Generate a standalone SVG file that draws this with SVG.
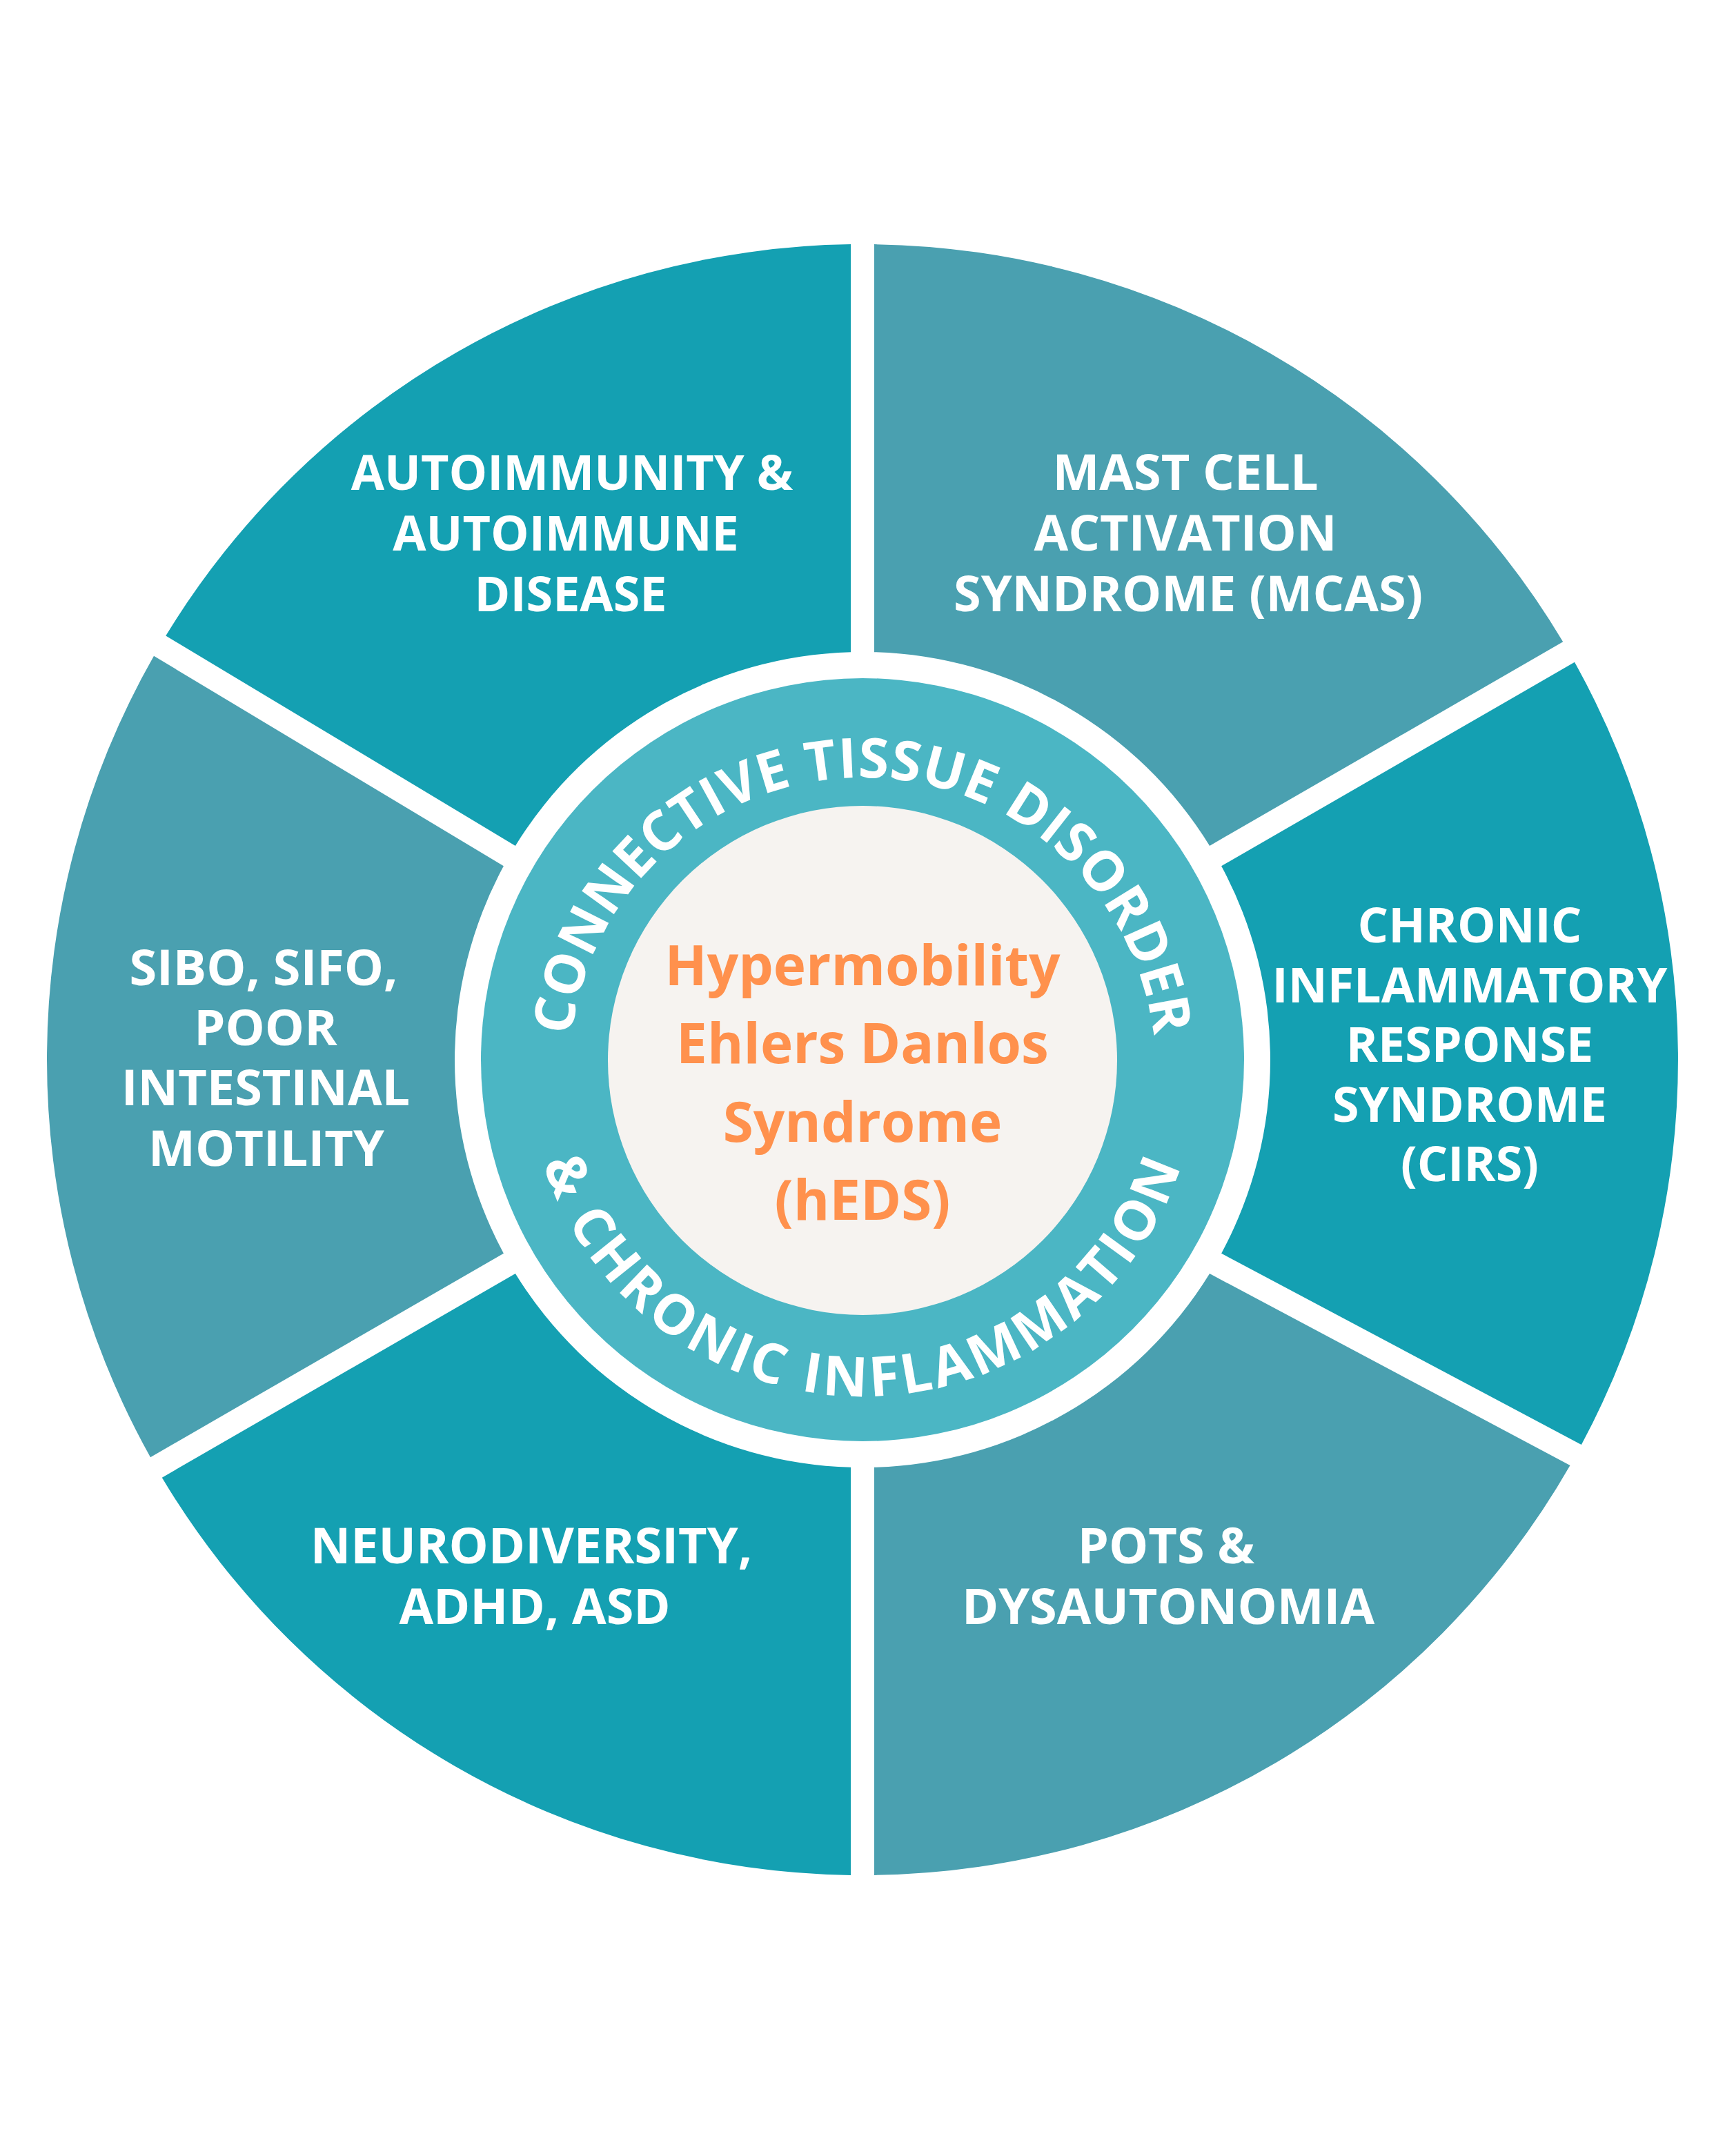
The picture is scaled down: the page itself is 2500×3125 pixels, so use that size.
<svg xmlns="http://www.w3.org/2000/svg" width="2500" height="3125" viewBox="0 0 2500 3125">
  <style>
    .dark { fill: #14A0B2; }
    .grey { fill: #4AA0B0; }
    .lbl { font-family: "Open Sans", "Liberation Sans", sans-serif; font-weight: 700; font-size: 72px; fill: #FFFFFF; text-anchor: middle; }
    .sm { font-size: 70px; }
    .ctr { font-family: "Open Sans", "Liberation Sans", sans-serif; font-weight: 700; font-size: 80px; fill: #FF914D; text-anchor: middle; }
    .arc { font-family: "Open Sans", "Liberation Sans", sans-serif; font-weight: 700; font-size: 80px; fill: #FFFFFF; text-anchor: middle; }
  </style>
  <defs>
    <path id="topArc" d="M831.46 1625.8 A425 425 0 1 1 1668.54 1625.8"/>
    <path id="botArc" d="M793.31 1371.78 A486 486 0 1 0 1706.69 1371.78"/>
  </defs>
  <rect width="2500" height="3125" fill="#FFFFFF"/>

  <g id="node-mcas">
    <path class="grey" d="M1267,354.1 A1182,1182 0 0 1 2265.2,930.3 L1753.1,1225.9 A591,591 0 0 0 1267,945.2 Z"/>
    <text class="lbl"><tspan x="1718" y="710">MAST CELL</tspan><tspan x="1718" y="798">ACTIVATION</tspan><tspan x="1722" y="886">SYNDROME (MCAS)</tspan></text>
  </g>
  <g id="node-cirs">
    <path class="dark" d="M2282,959.8 A1182,1182 0 0 1 2291.9,2094.1 L1770.1,1816.7 A591,591 0 0 0 1770.1,1255.3 Z"/>
    <text class="lbl sm"><tspan x="2130" y="1366">CHRONIC</tspan><tspan x="2130" y="1452.5">INFLAMMATORY</tspan><tspan x="2130" y="1539">RESPONSE</tspan><tspan x="2130" y="1625.5">SYNDROME</tspan><tspan x="2130" y="1712">(CIRS)</tspan></text>
  </g>
  <g id="node-pots">
    <path class="grey" d="M2275.5,2123.9 A1182,1182 0 0 1 1267,2717.9 L1267,2126.8 A591,591 0 0 0 1753.1,1846.1 Z"/>
    <text class="lbl"><tspan x="1690" y="2266">POTS &amp;</tspan><tspan x="1693" y="2354">DYSAUTONOMIA</tspan></text>
  </g>
  <g id="node-neuro">
    <path class="dark" d="M1233,2717.9 A1182,1182 0 0 1 234.8,2141.7 L746.9,1846.1 A591,591 0 0 0 1233,2126.8 Z"/>
    <text class="lbl"><tspan x="770" y="2266">NEURODIVERSITY,</tspan><tspan x="775" y="2354">ADHD, ASD</tspan></text>
  </g>
  <g id="node-sibo">
    <path class="grey" d="M218,2112.2 A1182,1182 0 0 1 223,950.8 L729.9,1255.3 A591,591 0 0 0 729.9,1816.7 Z"/>
    <text class="lbl"><tspan x="382" y="1428">SIBO, SIFO,</tspan><tspan x="385" y="1515">POOR</tspan><tspan x="385" y="1602">INTESTINAL</tspan><tspan x="386" y="1690">MOTILITY</tspan></text>
  </g>
  <g id="node-autoimmunity">
    <path class="dark" d="M240.3,921.5 A1182,1182 0 0 1 1233,354.1 L1233,945.2 A591,591 0 0 0 746.9,1225.9 Z"/>
    <text class="lbl sm"><tspan x="829" y="710">AUTOIMMUNITY &amp;</tspan><tspan x="820" y="798">AUTOIMMUNE</tspan><tspan x="827" y="886">DISEASE</tspan></text>
  </g>

  <g id="node-ring">
    <circle cx="1250" cy="1536" r="553" fill="#4BB6C4"/>
    <text class="arc" letter-spacing="0.5"><textPath href="#topArc" startOffset="50%">CONNECTIVE TISSUE DISORDER</textPath></text>
    <text class="arc" letter-spacing="5"><textPath href="#botArc" startOffset="50%">&amp; CHRONIC INFLAMMATION</textPath></text>
  </g>

  <g id="node-center">
    <circle cx="1250" cy="1537" r="369" fill="#F6F3F0"/>
    <text class="ctr"><tspan x="1250" y="1428">Hypermobility</tspan><tspan x="1250" y="1541">Ehlers Danlos</tspan><tspan x="1250" y="1655">Syndrome</tspan><tspan x="1250" y="1768">(hEDS)</tspan></text>
  </g>

  <g id="connectors"></g>
</svg>
